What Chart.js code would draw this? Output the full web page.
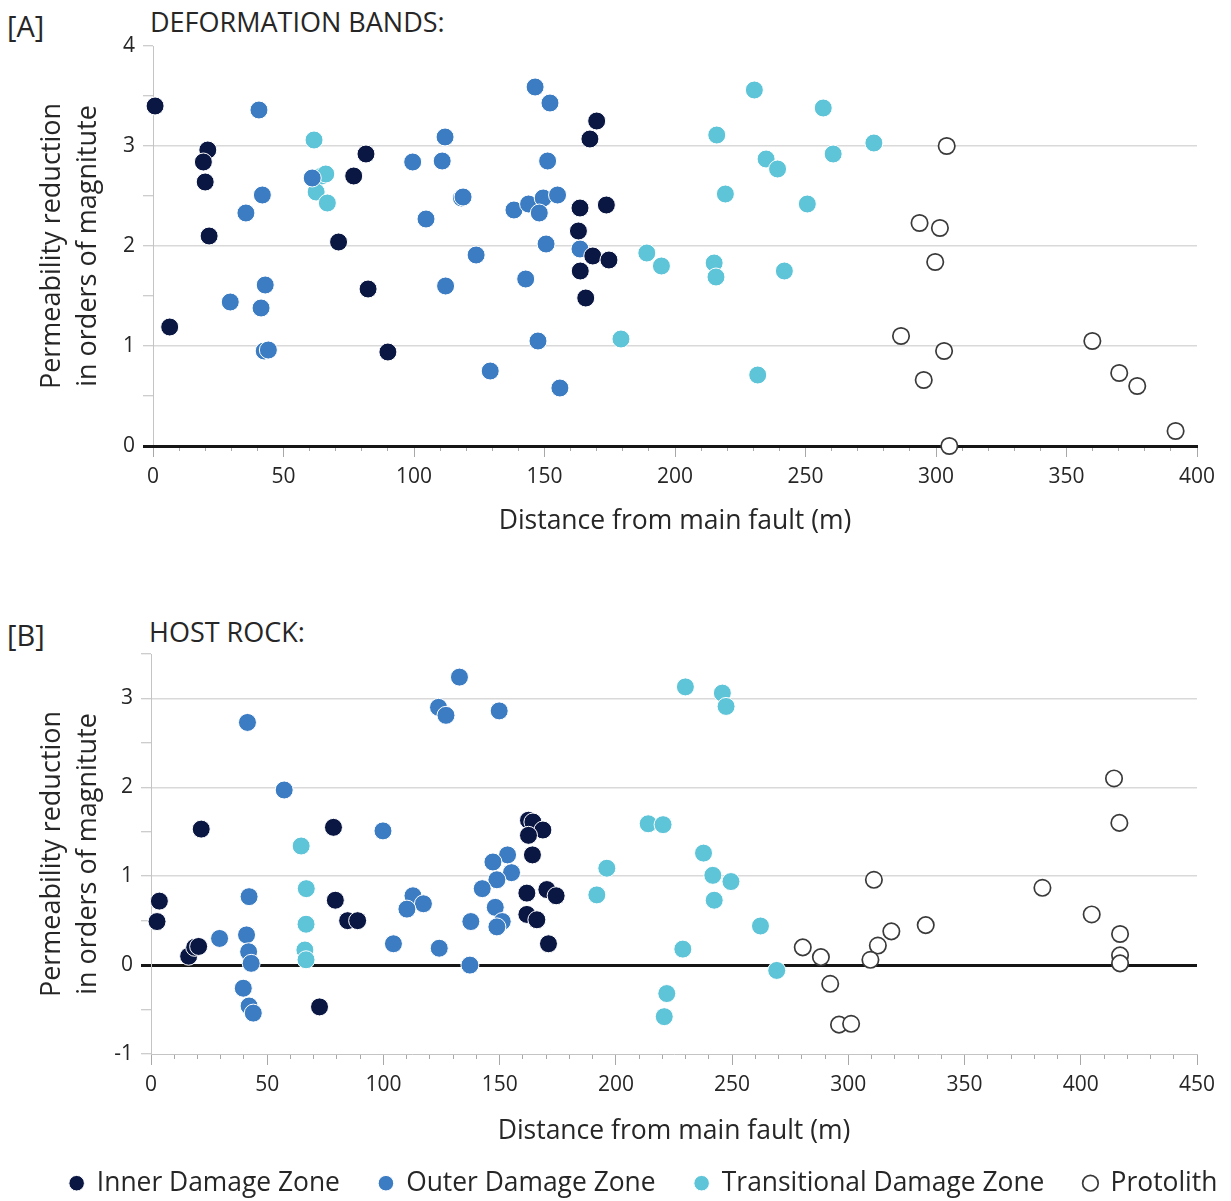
<!DOCTYPE html>
<html>
<head>
<meta charset="utf-8">
<title>Permeability reduction vs distance from main fault</title>
<script src="https://cdn.jsdelivr.net/npm/chart.js@4.4.1/dist/chart.umd.min.js"></script>
<style>
  html, body { margin: 0; padding: 0; background: #fff; width: 1231px; height: 1201px; overflow: hidden; }
  body { position: relative; font-family: "Open Sans", sans-serif; color: #262626; }
  .tag { position: absolute; font-size: 27px; line-height: 30px; white-space: nowrap; }
  .tag.big { font-size: 29px; }
  canvas { position: absolute; }
</style>
</head>
<body>
<div class="tag big" style="left:7px; top:11px;">[A]</div>
<div class="tag" style="left:150px; top:7px;">DEFORMATION BANDS:</div>
<div class="tag big" style="left:7px; top:620px;">[B]</div>
<div class="tag" style="left:149px; top:617px;">HOST ROCK:</div>
<canvas id="bands" width="1231" height="540" style="left:0; top:0; width:1231px; height:540px;"></canvas>
<canvas id="host" width="1231" height="601" style="left:28px; top:600px; width:1231px; height:601px;"></canvas>
<script>
// Zone names (legend order)
const zoneNames = ['Inner Damage Zone', 'Outer Damage Zone', 'Transitional Damage Zone', 'Protolith'];

// [A] Deformation bands: [distance (m), permeability reduction (orders of magnitude)]
const bandsInner = [[0.8,3.40],[21,2.96],[19.3,2.84],[20,2.64],[21.5,2.10],[6.4,1.19],[81.6,2.92],[76.9,2.70],[71.1,2.04],[82.4,1.57],[90,0.94],[170,3.25],[167.4,3.07],[163.6,2.38],[173.7,2.41],[163,2.15],[168.5,1.90],[174.7,1.86],[163.7,1.75],[165.8,1.48]];
const bandsOuter = [[40.6,3.36],[41.9,2.51],[35.6,2.33],[61,2.68],[43,1.61],[29.6,1.44],[41.4,1.38],[42.6,0.95],[44.2,0.96],[99.5,2.84],[104.6,2.27],[146.4,3.59],[152.1,3.43],[111.9,3.09],[110.8,2.85],[151.2,2.85],[118.2,2.48],[118.8,2.49],[138.3,2.36],[143.9,2.42],[149.5,2.48],[155,2.51],[148,2.33],[150.6,2.02],[163.6,1.97],[123.8,1.91],[142.8,1.67],[112.1,1.60],[147.5,1.05],[129.2,0.75],[155.9,0.58]];
const bandsTrans = [[61.7,3.06],[64.6,2.70],[66.2,2.72],[62.5,2.54],[66.8,2.43],[189.2,1.93],[194.8,1.80],[179.3,1.07],[230.4,3.56],[256.8,3.38],[216,3.11],[276.2,3.03],[234.9,2.87],[260.6,2.92],[239.3,2.77],[219.3,2.52],[250.7,2.42],[215,1.83],[215.7,1.69],[241.9,1.75],[231.7,0.71]];
const bandsProto = [[304.1,3.00],[293.7,2.23],[301.5,2.18],[299.7,1.84],[286.6,1.10],[303.1,0.95],[295.3,0.66],[305.1,0.00],[359.9,1.05],[370.2,0.73],[377.1,0.60],[391.8,0.15]];

// [B] Host rock
const hostInner = [[21.6,1.53],[3.6,0.72],[2.6,0.49],[16.2,0.10],[18.8,0.20],[20.5,0.21],[78.5,1.55],[79.3,0.73],[84.6,0.50],[88.9,0.50],[72.5,-0.47],[162.4,1.63],[164.3,1.61],[168.6,1.52],[162.4,1.46],[164.1,1.24],[161.7,0.81],[170.3,0.85],[174.3,0.78],[161.7,0.57],[166,0.51],[171,0.24]];
const hostOuter = [[41.5,2.73],[57.3,1.97],[99.8,1.51],[42.2,0.77],[29.5,0.30],[41.1,0.34],[42,0.15],[43.1,0.02],[39.7,-0.26],[42.2,-0.46],[44,-0.54],[112.7,0.78],[117.2,0.69],[110.1,0.63],[104.3,0.24],[124,0.19],[132.7,3.24],[123.7,2.90],[126.9,2.81],[149.8,2.86],[137.2,0.00],[137.6,0.49],[153.4,1.24],[147.1,1.16],[155.1,1.04],[148.8,0.96],[142.5,0.86],[148.1,0.65],[151.1,0.49],[148.8,0.43]];
const hostTrans = [[64.6,1.34],[66.8,0.86],[66.7,0.46],[66.2,0.17],[66.7,0.06],[229.9,3.13],[245.8,3.06],[247.4,2.91],[213.9,1.59],[220.3,1.58],[196.1,1.09],[191.8,0.79],[237.7,1.26],[241.7,1.01],[249.5,0.94],[242.3,0.73],[262.2,0.44],[228.8,0.18],[269.2,-0.06],[221.9,-0.32],[220.8,-0.58]];
const hostProto = [[414.3,2.10],[416.6,1.60],[311,0.96],[383.5,0.87],[404.7,0.57],[416.9,0.35],[416.9,0.11],[416.9,0.02],[333.3,0.45],[318.5,0.38],[312.7,0.22],[309.5,0.06],[280.4,0.20],[288.2,0.09],[292.2,-0.21],[296,-0.67],[301.2,-0.66]];

// Axis ranges and tick steps
const bandsX = [0, 400], bandsY = [0, 4];
const hostX = [0, 450], hostY = [-1, 3.5];
const xLabelStep = 50, xMinorStep = 10, yTickStep = 0.5;
const xTitle = 'Distance from main fault (m)';
const yTitle = ['Permeability reduction', 'in orders of magnitute'];

const TEXT = '#262626';
const FILL = ['#0b1743', '#3b7cc3', '#5ec4d8', '#ffffff'];
const EDGE = ['#ffffff', '#ffffff', '#ffffff', '#3a3a3a'];

Chart.defaults.font.family = "'Open Sans', sans-serif";
Chart.defaults.color = TEXT;

function zoneDataset(i, pts) {
  const hollow = i === 3;
  return {
    label: zoneNames[i],
    data: pts.map(([x, y]) => ({ x, y })),
    showLine: false,
    clip: false,
    xAxisID: 'x',
    yAxisID: 'y',
    pointStyle: 'circle',
    pointRadius: hollow ? 8.2 : 9,
    pointHoverRadius: hollow ? 8.2 : 9,
    pointBorderWidth: hollow ? 1.7 : 1,
    pointBackgroundColor: FILL[i],
    pointBorderColor: EDGE[i],
    backgroundColor: FILL[i],
    borderColor: EDGE[i]
  };
}

function yAxis(range, width, titleOffset) {
  const [min, max] = range;
  return {
    type: 'linear', position: 'left', min, max,
    afterFit: s => { s.width = width; },
    border: { color: '#c4c4c4', width: 1 },
    grid: {
      color: c => {
        const v = c.tick.value;
        if (v === 0) return '#161616';
        if (Number.isInteger(v) && v !== min && v !== max) return '#d9d9d9';
        return 'rgba(0,0,0,0)';
      },
      lineWidth: c => (c.tick.value === 0 ? 3 : 1.5),
      tickColor: c => (c.tick.value === 0 ? '#161616' : '#bdbdbd'),
      tickWidth: c => (c.tick.value === 0 ? 3 : 1),
      tickLength: 10
    },
    ticks: {
      stepSize: yTickStep, autoSkip: false, padding: 8,
      font: { size: 21 }, color: TEXT,
      callback: v => (Number.isInteger(v) ? String(v) : '')
    },
    title: {
      display: true, text: yTitle, color: TEXT,
      font: { size: 27, lineHeight: 1.33 },
      padding: { top: titleOffset, bottom: 0 }
    }
  };
}

function xAxes(range, height, borderColor, borderWidth, titlePadBottom) {
  const [min, max] = range;
  return {
    x: {
      type: 'linear', position: 'bottom', weight: 1, min, max,
      afterFit: s => { s.height = height; },
      border: { color: borderColor, width: borderWidth },
      grid: { drawOnChartArea: false, tickLength: 11, tickColor: '#a8a8a8', tickWidth: 1 },
      ticks: { stepSize: xLabelStep, autoSkip: false, maxRotation: 0, padding: 7, font: { size: 21 }, color: TEXT },
      title: { display: true, text: xTitle, color: TEXT, font: { size: 26.5 }, padding: { top: 0, bottom: titlePadBottom } }
    },
    xm: {
      type: 'linear', position: 'bottom', weight: 0, min, max,
      afterFit: s => { s.height = 0; },
      border: { display: false },
      grid: { drawOnChartArea: false, tickLength: 5, tickColor: '#a8a8a8', tickWidth: 1 },
      ticks: { display: false, stepSize: xMinorStep }
    }
  };
}

// [A] Deformation bands
new Chart(document.getElementById('bands'), {
  type: 'scatter',
  data: { datasets: [bandsInner, bandsOuter, bandsTrans, bandsProto].map((p, i) => zoneDataset(i, p)) },
  options: {
    responsive: false, animation: false, devicePixelRatio: 1,
    layout: { padding: { top: 46, right: 34, left: 0, bottom: 0 } },
    plugins: { legend: { display: false }, tooltip: { enabled: false } },
    scales: Object.assign({ y: yAxis(bandsY, 153, 34) }, xAxes(bandsX, 94, '#161616', 3, 3))
  }
});

// [B] Host rock (carries the shared legend)
new Chart(document.getElementById('host'), {
  type: 'scatter',
  data: { datasets: [hostInner, hostOuter, hostTrans, hostProto].map((p, i) => zoneDataset(i, p)) },
  options: {
    responsive: false, animation: false, devicePixelRatio: 1,
    layout: { padding: { top: 54, right: 0, left: 0, bottom: 0 } },
    plugins: {
      tooltip: { enabled: false },
      legend: {
        display: true, position: 'bottom', align: 'center', maxHeight: 70,
        labels: {
          usePointStyle: true, pointStyle: 'circle', boxHeight: 11, boxWidth: 14,
          padding: 39, color: TEXT, font: { size: 26.4 }
        }
      }
    },
    scales: Object.assign(
      { y: yAxis(hostY, 123, 6) },
      xAxes(hostX, 77, '#c4c4c4', 1, -16),
      { pad: { type: 'linear', position: 'right', afterFit: s => { s.width = 62; }, grid: { display: false }, border: { display: false }, ticks: { display: false } } }
    )
  }
});
</script>
</body>
</html>
